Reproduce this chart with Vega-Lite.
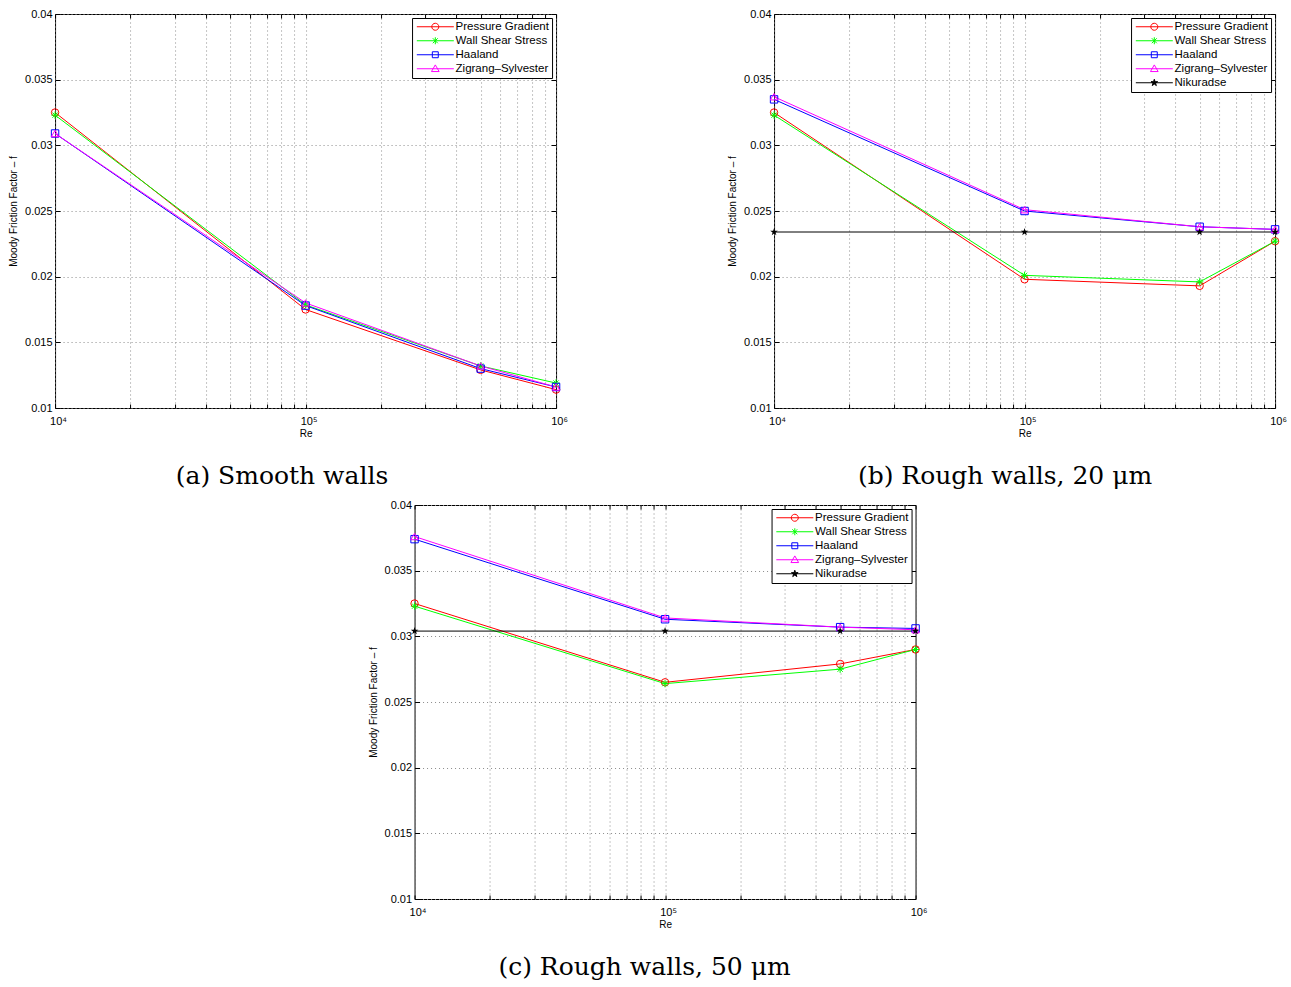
{
  "$schema": "https://vega.github.io/schema/vega-lite/v6.json",
  "background": "white",
  "padding": {"left": 8, "top": 7, "right": 0, "bottom": 0},
  "config": {
    "font": "Liberation Sans",
    "view": {"stroke": "black", "strokeWidth": 1},
    "axis": {
      "labelFont": "Liberation Sans", "labelFontSize": 11, "labelColor": "black",
      "titleFont": "Liberation Sans", "titleFontSize": 10, "titleFontWeight": "normal", "titleColor": "black",
      "domain": false, "tickColor": "black", "tickWidth": 1,
      "gridColor": "#8c8c8c", "gridDash": [1, 3], "gridWidth": 1, "gridOpacity": 1,
      "labelFlush": false
    },
    "legend": {
      "strokeColor": "black", "fillColor": "white", "padding": 3, "strokeWidth": 1,
      "labelFont": "Liberation Sans", "labelFontSize": 11.5, "labelColor": "black",
      "symbolSize": 49, "symbolStrokeWidth": 1, "rowPadding": 1
    },
    "point": {"size": 55, "strokeWidth": 1, "opacity": 1},
    "title": {"orient": "bottom", "font": "DejaVu Serif", "fontSize": 25, "fontWeight": "normal", "color": "black", "offset": 26, "anchor": "middle", "frame": "bounds"}
  },
  "datasets": {
    "a": [
      {"series": "Pressure Gradient", "Re": 10000, "f": 0.0325},
      {"series": "Pressure Gradient", "Re": 100000, "f": 0.0175},
      {"series": "Pressure Gradient", "Re": 500000, "f": 0.0129},
      {"series": "Pressure Gradient", "Re": 1000000, "f": 0.0114},
      {"series": "Wall Shear Stress", "Re": 10000, "f": 0.0323},
      {"series": "Wall Shear Stress", "Re": 100000, "f": 0.01785},
      {"series": "Wall Shear Stress", "Re": 500000, "f": 0.0132},
      {"series": "Wall Shear Stress", "Re": 1000000, "f": 0.0119},
      {"series": "Haaland", "Re": 10000, "f": 0.0309},
      {"series": "Haaland", "Re": 100000, "f": 0.0178},
      {"series": "Haaland", "Re": 500000, "f": 0.0130},
      {"series": "Haaland", "Re": 1000000, "f": 0.0116},
      {"series": "Zigrang–Sylvester", "Re": 10000, "f": 0.0309},
      {"series": "Zigrang–Sylvester", "Re": 100000, "f": 0.0180},
      {"series": "Zigrang–Sylvester", "Re": 500000, "f": 0.0132},
      {"series": "Zigrang–Sylvester", "Re": 1000000, "f": 0.0116}
    ],
    "b": [
      {"series": "Pressure Gradient", "Re": 10000, "f": 0.0325},
      {"series": "Pressure Gradient", "Re": 100000, "f": 0.0198},
      {"series": "Pressure Gradient", "Re": 500000, "f": 0.0193},
      {"series": "Pressure Gradient", "Re": 1000000, "f": 0.0227},
      {"series": "Wall Shear Stress", "Re": 10000, "f": 0.0323},
      {"series": "Wall Shear Stress", "Re": 100000, "f": 0.0201},
      {"series": "Wall Shear Stress", "Re": 500000, "f": 0.0196},
      {"series": "Wall Shear Stress", "Re": 1000000, "f": 0.0227},
      {"series": "Haaland", "Re": 10000, "f": 0.0335},
      {"series": "Haaland", "Re": 100000, "f": 0.0250},
      {"series": "Haaland", "Re": 500000, "f": 0.0238},
      {"series": "Haaland", "Re": 1000000, "f": 0.0236},
      {"series": "Zigrang–Sylvester", "Re": 10000, "f": 0.0337},
      {"series": "Zigrang–Sylvester", "Re": 100000, "f": 0.0251},
      {"series": "Zigrang–Sylvester", "Re": 500000, "f": 0.0238},
      {"series": "Zigrang–Sylvester", "Re": 1000000, "f": 0.0236},
      {"series": "Nikuradse", "Re": 10000, "f": 0.0234},
      {"series": "Nikuradse", "Re": 100000, "f": 0.0234},
      {"series": "Nikuradse", "Re": 500000, "f": 0.0234},
      {"series": "Nikuradse", "Re": 1000000, "f": 0.0234}
    ],
    "c": [
      {"series": "Pressure Gradient", "Re": 10000, "f": 0.0325},
      {"series": "Pressure Gradient", "Re": 100000, "f": 0.0265},
      {"series": "Pressure Gradient", "Re": 500000, "f": 0.0279},
      {"series": "Pressure Gradient", "Re": 1000000, "f": 0.0290},
      {"series": "Wall Shear Stress", "Re": 10000, "f": 0.0323},
      {"series": "Wall Shear Stress", "Re": 100000, "f": 0.0264},
      {"series": "Wall Shear Stress", "Re": 500000, "f": 0.0275},
      {"series": "Wall Shear Stress", "Re": 1000000, "f": 0.0290},
      {"series": "Haaland", "Re": 10000, "f": 0.0374},
      {"series": "Haaland", "Re": 100000, "f": 0.0313},
      {"series": "Haaland", "Re": 500000, "f": 0.0307},
      {"series": "Haaland", "Re": 1000000, "f": 0.0306},
      {"series": "Zigrang–Sylvester", "Re": 10000, "f": 0.0376},
      {"series": "Zigrang–Sylvester", "Re": 100000, "f": 0.0314},
      {"series": "Zigrang–Sylvester", "Re": 500000, "f": 0.0307},
      {"series": "Zigrang–Sylvester", "Re": 1000000, "f": 0.0305},
      {"series": "Nikuradse", "Re": 10000, "f": 0.0304},
      {"series": "Nikuradse", "Re": 100000, "f": 0.0304},
      {"series": "Nikuradse", "Re": 500000, "f": 0.0304},
      {"series": "Nikuradse", "Re": 1000000, "f": 0.0304}
    ]
  },
  "vconcat": [
    {
      "hconcat": [
        {
          "width": 501, "height": 394,
          "data": {"name": "a"},
          "title": {"text": "(a) Smooth walls", "dx": -6},
          "layer": [
            {
              "mark": {"type": "line", "strokeWidth": 1},
              "encoding": {
                "x": {"field": "Re", "type": "quantitative", "scale": {"type": "log", "domain": [10000, 1000000], "nice": false},
                  "axis": {"orient": "bottom", "title": "Re", "values": [10000,20000,30000,40000,50000,60000,70000,80000,90000,100000,200000,300000,400000,500000,600000,700000,800000,900000,1000000],
                    "labelExpr": "datum.value == 10000 ? '10⁴' : datum.value == 100000 ? '10⁵' : datum.value == 1000000 ? '10⁶' : ''",
                    "grid": true, "tickSize": -4, "labelPadding": 11, "labelOffset": 3, "titlePadding": 2}},
                "y": {"field": "f", "type": "quantitative", "scale": {"domain": [0.01, 0.04], "nice": false, "zero": false},
                  "axis": {"orient": "left", "title": "Moody Friction Factor – f", "values": [0.01,0.015,0.02,0.025,0.03,0.035,0.04], "format": ".3~f",
                    "grid": true, "tickSize": -5, "labelPadding": 8, "titlePadding": 6}},
                "color": {"field": "series", "type": "nominal",
                  "scale": {"domain": ["Pressure Gradient", "Wall Shear Stress", "Haaland", "Zigrang–Sylvester"], "range": ["#ff0000", "#00ff00", "#0000ff", "#ff00ff"]},
                  "legend": {"title": null, "orient": "top-right", "offset": 4, "labelOffset": 29,
                    "encoding": {"symbols": {
                      "shape": {"value": {"expr": "datum.value === 'Pressure Gradient' ? 'M-1.14,0L9.43,0M5.14,0A1,1,0,1,1,3.14,0A1,1,0,1,1,5.14,0' : datum.value === 'Wall Shear Stress' ? 'M-1.14,0L9.43,0M4.14,-1L4.14,1M3.43,-0.71L4.85,0.71M3.43,0.71L4.85,-0.71' : datum.value === 'Haaland' ? 'M-1.14,0L9.43,0M3.29,-0.85L4.99,-0.85L4.99,0.85L3.29,0.85Z' : datum.value === 'Zigrang–Sylvester' ? 'M-1.14,0L9.43,0M4.14,-1.1L5.24,0.8L3.04,0.8Z' : 'M-1.14,0L9.43,0M4.14,-1L4.365,-0.309L5.091,-0.309L4.503,0.118L4.728,0.809L4.14,0.382L3.552,0.809L3.777,0.118L3.189,-0.309L3.915,-0.309Z'"}},
                      "fill": {"value": {"expr": "datum.value === 'Nikuradse' ? 'black' : 'transparent'"}},
                      "size": {"value": 49}, "strokeWidth": {"value": 1}, "opacity": {"value": 1}
                    }}}}
              }
            },
            {
              "transform": [{"filter": "datum.series === 'Pressure Gradient'"}],
              "mark": {"type": "point", "shape": "circle", "filled": false, "color": "#ff0000"},
              "encoding": {
                "x": {"field": "Re", "type": "quantitative", "axis": {"orient": "top", "title": null, "labels": false, "grid": false, "tickSize": -4, "values": [10000,20000,30000,40000,50000,60000,70000,80000,90000,100000,200000,300000,400000,500000,600000,700000,800000,900000,1000000]}},
                "y": {"field": "f", "type": "quantitative", "axis": {"orient": "right", "title": null, "labels": false, "grid": false, "tickSize": -5, "values": [0.01,0.015,0.02,0.025,0.03,0.035,0.04]}}
              }
            },
            {
              "transform": [{"filter": "datum.series === 'Wall Shear Stress'"}],
              "mark": {"type": "point", "shape": "M-1,0L1,0M0,-1L0,1M-0.71,-0.71L0.71,0.71M-0.71,0.71L0.71,-0.71", "filled": false, "color": "#00ff00"},
              "encoding": {"x": {"field": "Re", "type": "quantitative", "axis": null}, "y": {"field": "f", "type": "quantitative", "axis": null}}
            },
            {
              "transform": [{"filter": "datum.series === 'Haaland'"}],
              "mark": {"type": "point", "shape": "square", "filled": false, "color": "#0000ff"},
              "encoding": {"x": {"field": "Re", "type": "quantitative", "axis": null}, "y": {"field": "f", "type": "quantitative", "axis": null}}
            },
            {
              "transform": [{"filter": "datum.series === 'Zigrang–Sylvester'"}],
              "mark": {"type": "point", "shape": "triangle-up", "filled": false, "color": "#ff00ff"},
              "encoding": {"x": {"field": "Re", "type": "quantitative", "axis": null}, "y": {"field": "f", "type": "quantitative", "axis": null}}
            }
          ],
          "resolve": {"axis": {"x": "independent", "y": "independent"}}
        },
        {
          "width": 501, "height": 394,
          "data": {"name": "b"},
          "title": {"text": "(b) Rough walls, 20 μm", "dx": -2},
          "layer": [
            {
              "mark": {"type": "line", "strokeWidth": 1},
              "encoding": {
                "x": {"field": "Re", "type": "quantitative", "scale": {"type": "log", "domain": [10000, 1000000], "nice": false},
                  "axis": {"orient": "bottom", "title": "Re", "values": [10000,20000,30000,40000,50000,60000,70000,80000,90000,100000,200000,300000,400000,500000,600000,700000,800000,900000,1000000],
                    "labelExpr": "datum.value == 10000 ? '10⁴' : datum.value == 100000 ? '10⁵' : datum.value == 1000000 ? '10⁶' : ''",
                    "grid": true, "tickSize": -4, "labelPadding": 11, "labelOffset": 3, "titlePadding": 2}},
                "y": {"field": "f", "type": "quantitative", "scale": {"domain": [0.01, 0.04], "nice": false, "zero": false},
                  "axis": {"orient": "left", "title": "Moody Friction Factor – f", "values": [0.01,0.015,0.02,0.025,0.03,0.035,0.04], "format": ".3~f",
                    "grid": true, "tickSize": -5, "labelPadding": 8, "titlePadding": 6}},
                "color": {"field": "series", "type": "nominal",
                  "scale": {"domain": ["Pressure Gradient", "Wall Shear Stress", "Haaland", "Zigrang–Sylvester", "Nikuradse"], "range": ["#ff0000", "#00ff00", "#0000ff", "#ff00ff", "#000000"]},
                  "legend": {"title": null, "orient": "top-right", "offset": 4, "labelOffset": 29,
                    "encoding": {"symbols": {
                      "shape": {"value": {"expr": "datum.value === 'Pressure Gradient' ? 'M-1.14,0L9.43,0M5.14,0A1,1,0,1,1,3.14,0A1,1,0,1,1,5.14,0' : datum.value === 'Wall Shear Stress' ? 'M-1.14,0L9.43,0M4.14,-1L4.14,1M3.43,-0.71L4.85,0.71M3.43,0.71L4.85,-0.71' : datum.value === 'Haaland' ? 'M-1.14,0L9.43,0M3.29,-0.85L4.99,-0.85L4.99,0.85L3.29,0.85Z' : datum.value === 'Zigrang–Sylvester' ? 'M-1.14,0L9.43,0M4.14,-1.1L5.24,0.8L3.04,0.8Z' : 'M-1.14,0L9.43,0M4.14,-1L4.365,-0.309L5.091,-0.309L4.503,0.118L4.728,0.809L4.14,0.382L3.552,0.809L3.777,0.118L3.189,-0.309L3.915,-0.309Z'"}},
                      "fill": {"value": {"expr": "datum.value === 'Nikuradse' ? 'black' : 'transparent'"}},
                      "size": {"value": 49}, "strokeWidth": {"value": 1}, "opacity": {"value": 1}
                    }}}}
              }
            },
            {
              "transform": [{"filter": "datum.series === 'Pressure Gradient'"}],
              "mark": {"type": "point", "shape": "circle", "filled": false, "color": "#ff0000"},
              "encoding": {
                "x": {"field": "Re", "type": "quantitative", "axis": {"orient": "top", "title": null, "labels": false, "grid": false, "tickSize": -4, "values": [10000,20000,30000,40000,50000,60000,70000,80000,90000,100000,200000,300000,400000,500000,600000,700000,800000,900000,1000000]}},
                "y": {"field": "f", "type": "quantitative", "axis": {"orient": "right", "title": null, "labels": false, "grid": false, "tickSize": -5, "values": [0.01,0.015,0.02,0.025,0.03,0.035,0.04]}}
              }
            },
            {
              "transform": [{"filter": "datum.series === 'Wall Shear Stress'"}],
              "mark": {"type": "point", "shape": "M-1,0L1,0M0,-1L0,1M-0.71,-0.71L0.71,0.71M-0.71,0.71L0.71,-0.71", "filled": false, "color": "#00ff00"},
              "encoding": {"x": {"field": "Re", "type": "quantitative", "axis": null}, "y": {"field": "f", "type": "quantitative", "axis": null}}
            },
            {
              "transform": [{"filter": "datum.series === 'Haaland'"}],
              "mark": {"type": "point", "shape": "square", "filled": false, "color": "#0000ff"},
              "encoding": {"x": {"field": "Re", "type": "quantitative", "axis": null}, "y": {"field": "f", "type": "quantitative", "axis": null}}
            },
            {
              "transform": [{"filter": "datum.series === 'Zigrang–Sylvester'"}],
              "mark": {"type": "point", "shape": "triangle-up", "filled": false, "color": "#ff00ff"},
              "encoding": {"x": {"field": "Re", "type": "quantitative", "axis": null}, "y": {"field": "f", "type": "quantitative", "axis": null}}
            },
            {
              "transform": [{"filter": "datum.series === 'Nikuradse'"}],
              "mark": {"type": "point", "shape": "M0,-1L0.225,-0.309L0.951,-0.309L0.363,0.118L0.588,0.809L0,0.382L-0.588,0.809L-0.363,0.118L-0.951,-0.309L-0.225,-0.309Z", "filled": true, "color": "#000000", "size": 64},
              "encoding": {"x": {"field": "Re", "type": "quantitative", "axis": null}, "y": {"field": "f", "type": "quantitative", "axis": null}}
            }
          ],
          "resolve": {"axis": {"x": "independent", "y": "independent"}}
        }
      ],
      "spacing": 158,
      "resolve": {"scale": {"color": "independent"}}
    },
    {
      "width": 501, "height": 394,
      "data": {"name": "c"},
      "title": {"text": "(c) Rough walls, 50 μm", "dx": -3},
      "layer": [
        {
          "mark": {"type": "line", "strokeWidth": 1},
          "encoding": {
            "x": {"field": "Re", "type": "quantitative", "scale": {"type": "log", "domain": [10000, 1000000], "nice": false},
              "axis": {"orient": "bottom", "title": "Re", "values": [10000,20000,30000,40000,50000,60000,70000,80000,90000,100000,200000,300000,400000,500000,600000,700000,800000,900000,1000000],
                "labelExpr": "datum.value == 10000 ? '10⁴' : datum.value == 100000 ? '10⁵' : datum.value == 1000000 ? '10⁶' : ''",
                "grid": true, "tickSize": -4, "labelPadding": 11, "labelOffset": 3, "titlePadding": 2}},
            "y": {"field": "f", "type": "quantitative", "scale": {"domain": [0.01, 0.04], "nice": false, "zero": false},
              "axis": {"orient": "left", "title": "Moody Friction Factor – f", "values": [0.01,0.015,0.02,0.025,0.03,0.035,0.04], "format": ".3~f",
                "grid": true, "tickSize": -5, "labelPadding": 8, "titlePadding": 6}},
            "color": {"field": "series", "type": "nominal",
              "scale": {"domain": ["Pressure Gradient", "Wall Shear Stress", "Haaland", "Zigrang–Sylvester", "Nikuradse"], "range": ["#ff0000", "#00ff00", "#0000ff", "#ff00ff", "#000000"]},
              "legend": {"title": null, "orient": "top-right", "offset": 4, "labelOffset": 29,
                "encoding": {"symbols": {
                  "shape": {"value": {"expr": "datum.value === 'Pressure Gradient' ? 'M-1.14,0L9.43,0M5.14,0A1,1,0,1,1,3.14,0A1,1,0,1,1,5.14,0' : datum.value === 'Wall Shear Stress' ? 'M-1.14,0L9.43,0M4.14,-1L4.14,1M3.43,-0.71L4.85,0.71M3.43,0.71L4.85,-0.71' : datum.value === 'Haaland' ? 'M-1.14,0L9.43,0M3.29,-0.85L4.99,-0.85L4.99,0.85L3.29,0.85Z' : datum.value === 'Zigrang–Sylvester' ? 'M-1.14,0L9.43,0M4.14,-1.1L5.24,0.8L3.04,0.8Z' : 'M-1.14,0L9.43,0M4.14,-1L4.365,-0.309L5.091,-0.309L4.503,0.118L4.728,0.809L4.14,0.382L3.552,0.809L3.777,0.118L3.189,-0.309L3.915,-0.309Z'"}},
                  "fill": {"value": {"expr": "datum.value === 'Nikuradse' ? 'black' : 'transparent'"}},
                  "size": {"value": 49}, "strokeWidth": {"value": 1}, "opacity": {"value": 1}
                }}}}
          }
        },
        {
          "transform": [{"filter": "datum.series === 'Pressure Gradient'"}],
          "mark": {"type": "point", "shape": "circle", "filled": false, "color": "#ff0000"},
          "encoding": {
            "x": {"field": "Re", "type": "quantitative", "axis": {"orient": "top", "title": null, "labels": false, "grid": false, "tickSize": -4, "values": [10000,20000,30000,40000,50000,60000,70000,80000,90000,100000,200000,300000,400000,500000,600000,700000,800000,900000,1000000]}},
            "y": {"field": "f", "type": "quantitative", "axis": {"orient": "right", "title": null, "labels": false, "grid": false, "tickSize": -5, "values": [0.01,0.015,0.02,0.025,0.03,0.035,0.04]}}
          }
        },
        {
          "transform": [{"filter": "datum.series === 'Wall Shear Stress'"}],
          "mark": {"type": "point", "shape": "M-1,0L1,0M0,-1L0,1M-0.71,-0.71L0.71,0.71M-0.71,0.71L0.71,-0.71", "filled": false, "color": "#00ff00"},
          "encoding": {"x": {"field": "Re", "type": "quantitative", "axis": null}, "y": {"field": "f", "type": "quantitative", "axis": null}}
        },
        {
          "transform": [{"filter": "datum.series === 'Haaland'"}],
          "mark": {"type": "point", "shape": "square", "filled": false, "color": "#0000ff"},
          "encoding": {"x": {"field": "Re", "type": "quantitative", "axis": null}, "y": {"field": "f", "type": "quantitative", "axis": null}}
        },
        {
          "transform": [{"filter": "datum.series === 'Zigrang–Sylvester'"}],
          "mark": {"type": "point", "shape": "triangle-up", "filled": false, "color": "#ff00ff"},
          "encoding": {"x": {"field": "Re", "type": "quantitative", "axis": null}, "y": {"field": "f", "type": "quantitative", "axis": null}}
        },
        {
          "transform": [{"filter": "datum.series === 'Nikuradse'"}],
          "mark": {"type": "point", "shape": "M0,-1L0.225,-0.309L0.951,-0.309L0.363,0.118L0.588,0.809L0,0.382L-0.588,0.809L-0.363,0.118L-0.951,-0.309L-0.225,-0.309Z", "filled": true, "color": "#000000", "size": 64},
          "encoding": {"x": {"field": "Re", "type": "quantitative", "axis": null}, "y": {"field": "f", "type": "quantitative", "axis": null}}
        }
      ],
      "resolve": {"axis": {"x": "independent", "y": "independent"}}
    }
  ],
  "spacing": 8,
  "center": true,
  "resolve": {"scale": {"color": "independent"}}
}
